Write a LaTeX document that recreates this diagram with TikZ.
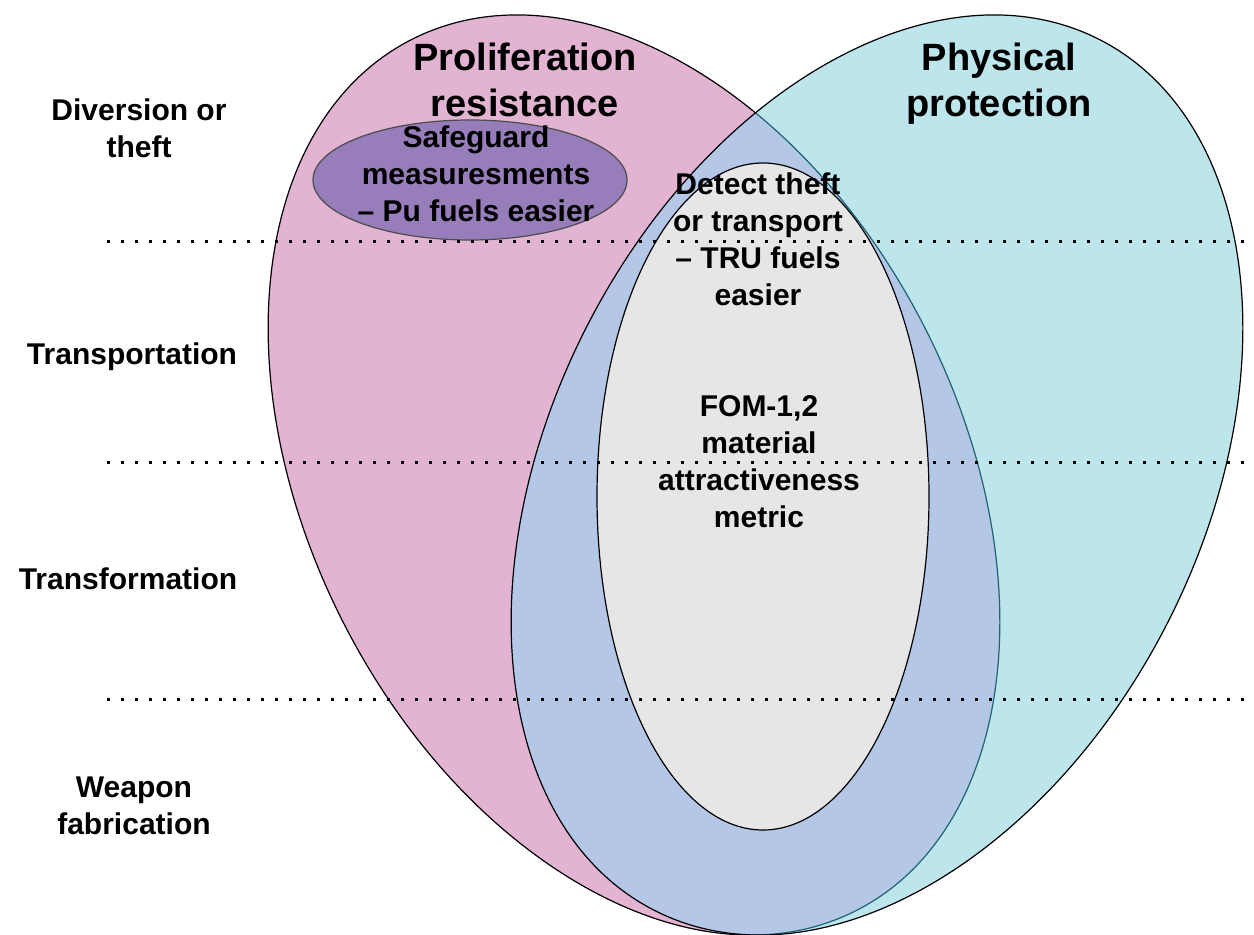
\documentclass[tikz,border=0pt]{standalone}
\usepackage{fontspec}
\setmainfont{Liberation Sans}
\definecolor{prpink}{RGB}{226,180,210}
\definecolor{ppcyan}{RGB}{189,229,236}
\definecolor{bothblue}{RGB}{180,199,231}
\definecolor{fomgray}{RGB}{230,230,230}
\definecolor{sgpurple}{RGB}{151,126,186}
\definecolor{edgeteal}{RGB}{30,100,115}
\begin{document}
\begin{tikzpicture}[x=1pt,y=1pt,
  outline/.style={line width=1.2pt},
  lbl/.style={font=\bfseries\fontsize{30}{37}\selectfont, align=center, inner sep=0pt},
  ttl/.style={font=\bfseries\fontsize{38}{46}\selectfont, align=center, inner sep=0pt},
  sepline/.style={line width=3pt, dash pattern=on 3pt off 11pt},
  pinkrot/.style={rotate around={27.1:(634,460)}},
  cyanrot/.style={rotate around={-27.1:(877,460)}},
]
\useasboundingbox (0,0) rectangle (1254,935);

% Proliferation resistance region
\path[pinkrot, fill=prpink, draw=black, outline] (634,460) ellipse [x radius=326, y radius=489];
% Physical protection region
\path[cyanrot, fill=ppcyan] (877,460) ellipse [x radius=326, y radius=489];
% overlap of the two regions
\begin{scope}
  \clip[pinkrot] (634,460) ellipse [x radius=326, y radius=489];
  \fill[cyanrot, bothblue] (877,460) ellipse [x radius=326, y radius=489];
\end{scope}
% edge of the pink region seen through the cyan one
\begin{scope}
  \clip[cyanrot] (877,460) ellipse [x radius=326, y radius=489];
  \draw[pinkrot, edgeteal, outline] (634,460) ellipse [x radius=326, y radius=489];
\end{scope}
\draw[cyanrot, black, outline] (877,460) ellipse [x radius=326, y radius=489];

% material attractiveness region
\draw[fill=fomgray, outline] (763,438.5) ellipse [x radius=166, y radius=333.5];
% safeguard region
\draw[fill=sgpurple, draw=black!70, outline] (470,755) ellipse [x radius=157, y radius=60];

% stage separators
\coordinate (s1l) at (107,693);  \coordinate (s1r) at (1254,693);
\coordinate (s2l) at (107,472);  \coordinate (s2r) at (1254,472);
\coordinate (s3l) at (107,235);  \coordinate (s3r) at (1254,235);
\draw[sepline] (s1l) -- (s1r);
\draw[sepline] (s2l) -- (s2r);
\draw[sepline] (s3l) -- (s3r);

% titles
\node[ttl] (prolif) at (525,855.1) {Proliferation\\resistance};
\node[ttl] (physprot) at (999,851.1) {Physical\\protection};

% stage labels
\node[lbl] (diversion) at (139,806.4) {Diversion or\\theft};
\node[lbl] (transport) at (132,577.8) {Transportation};
\node[lbl] (transform) at (128,356) {Transformation};
\node[lbl] (weapon) at (134,129.4) {Weapon\\fabrication};

% region texts
\node[lbl] (safeguard) at (476,761) {Safeguard\\measuresments\\– Pu fuels easier};
\node[lbl] (detect) at (758,696.1) {Detect theft\\or transport\\– TRU fuels\\easier};
\node[lbl] (fom) at (759,473.1) {FOM-1,2\\material\\attractiveness\\metric};
\end{tikzpicture}
\end{document}
